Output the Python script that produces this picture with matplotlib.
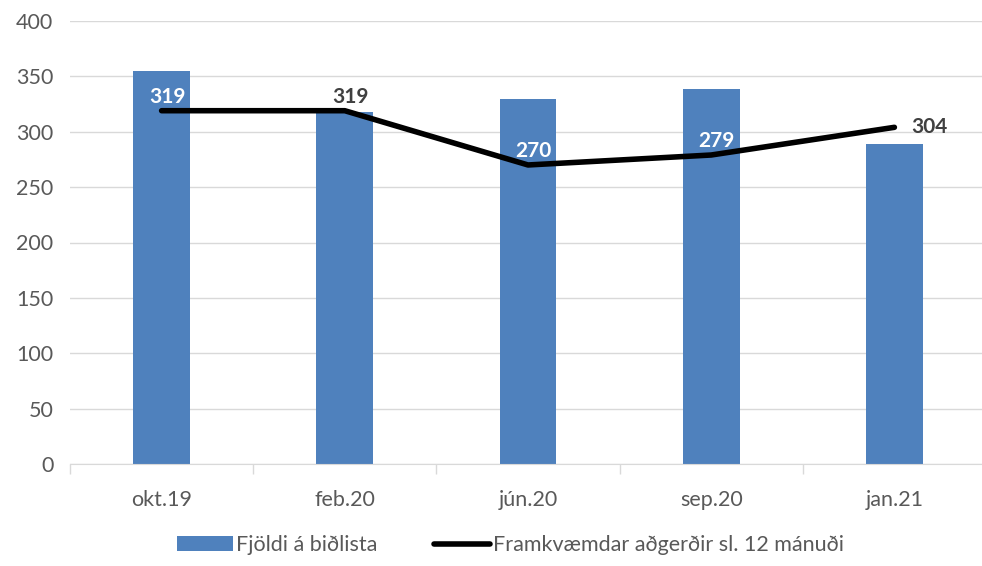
import matplotlib
matplotlib.use("Agg")
import matplotlib.pyplot as plt
import numpy as np

plt.rcParams['font.family'] = ['Lato', 'DejaVu Sans']

# data
categories = ['okt.19', 'feb.20', 'jún.20', 'sep.20', 'jan.21']
bidlisti = [355, 318, 330, 339, 289]
adgerdir = [319, 319, 270, 279, 304]
label_colors = ['white', '#404040', 'white', 'white', '#404040']

fig = plt.figure(figsize=(9.82, 5.66), dpi=100)
ax = fig.add_axes([70/982, 102/566, 916/982, 443/566])

x = np.arange(len(categories))
bars = ax.bar(x, bidlisti, width=0.31, color='#4f81bd', label='Fjöldi á biðlista', zorder=2)
line, = ax.plot(x, adgerdir, color='black', lw=4, solid_capstyle='round',
                label='Framkvæmdar aðgerðir sl. 12 mánuði', zorder=3)

for i, v in enumerate(adgerdir):
    if i == len(adgerdir) - 1:
        ax.annotate(str(v), (x[i], v), xytext=(12, 0), textcoords='offset points',
                    ha='left', va='center', fontsize=15, fontweight='bold',
                    color=label_colors[i], zorder=4)
    else:
        ax.annotate(str(v), (x[i], v), xytext=(4, 3), textcoords='offset points',
                    ha='center', va='bottom', fontsize=15, fontweight='bold',
                    color=label_colors[i], zorder=4)

ax.set_xlim(-0.5, len(categories) - 0.5)
ax.set_ylim(0, 400)
ax.set_yticks(range(0, 401, 50))
ax.set_xticks(x)
ax.set_xticklabels(categories)
ax.set_xticks(np.arange(-0.5, len(categories), 1), minor=True)
ax.tick_params(axis='x', which='major', length=0, pad=19, labelsize=15.5, labelcolor='#595959')
ax.tick_params(axis='x', which='minor', length=7, color='#d9d9d9', width=1)
ax.tick_params(axis='y', length=0, pad=12, labelsize=15.5, labelcolor='#595959')
ax.grid(axis='y', color='#d9d9d9', lw=1, zorder=0)
for s in ['top', 'right', 'left']:
    ax.spines[s].set_visible(False)
ax.spines['bottom'].set_color('#d9d9d9')

leg = fig.legend([bars, line], ['Fjöldi á biðlista', 'Framkvæmdar aðgerðir sl. 12 mánuði'],
                 loc='lower center', bbox_to_anchor=(0.52, -0.015), ncol=2, frameon=False,
                 fontsize=15.5, handlelength=2.6, handletextpad=0.15, columnspacing=2.6)
for t in leg.get_texts():
    t.set_color('#595959')

fig.savefig('out.png', dpi=100)
